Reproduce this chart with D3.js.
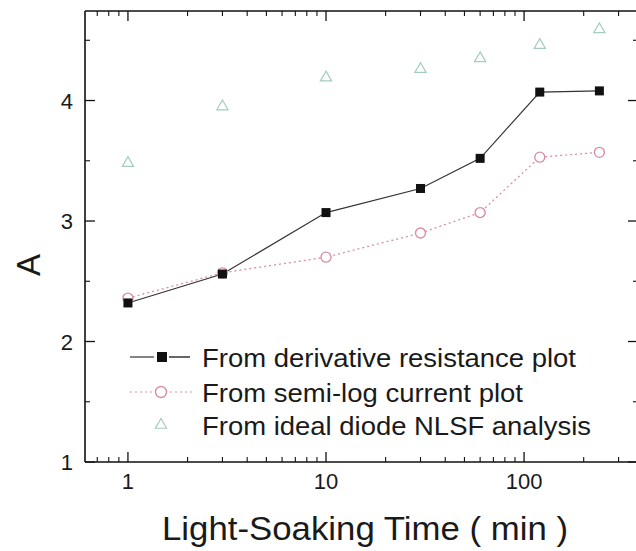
<!DOCTYPE html>
<html><head><meta charset="utf-8">
<script src="https://cdn.jsdelivr.net/npm/d3@7"></script>
<style>body{margin:0;background:#fff}svg{display:block}text{font-family:"Liberation Sans",Arial,sans-serif;fill:#1a1a1a}</style>
</head><body><svg id="c" width="636" height="551"></svg>
<script>
const times = [1, 3, 10, 30, 60, 120, 240];
const derivative = [2.32, 2.56, 3.07, 3.27, 3.52, 4.07, 4.08];
const semilog = [2.36, 2.57, 2.70, 2.90, 3.07, 3.53, 3.57];
const nlsf = [3.48, 3.95, 4.19, 4.26, 4.35, 4.46, 4.59];
const xTicks = [1, 10, 100];
const yTicks = [1, 2, 3, 4];
const legendLabels = ["From derivative resistance plot", "From semi-log current plot", "From ideal diode NLSF analysis"];
const legendWidths = [374, 321, 389];

const svg = d3.select("#c");
const L = 85, R = 638, T = 11, B = 462;
const x = d3.scaleLog().domain([0.607, 376]).range([L, R]);
const y = d3.scaleLinear().domain([1, 4.743]).range([B, T]);

const minorX = [];
for (let d = 0.1; d <= 100; d *= 10) for (let k = 2; k <= 9; k++) { const v = d * k; if (v > 0.607 && v < 376) minorX.push(+v.toPrecision(3)); }
const minorY = [1.5, 2.5, 3.5, 4.5];

const ax = svg.append("g").attr("stroke", "#111").attr("fill", "none");
ax.append("line").attr("x1", L).attr("x2", R).attr("y1", B).attr("y2", B).attr("stroke-width", 1.6);
ax.append("line").attr("x1", L).attr("x2", R).attr("y1", T).attr("y2", T).attr("stroke-width", 1.6);
ax.append("line").attr("x1", L).attr("x2", L).attr("y1", T).attr("y2", B).attr("stroke-width", 1.6);
ax.append("line").attr("x1", R).attr("x2", R).attr("y1", T).attr("y2", B).attr("stroke-width", 1.6);

xTicks.forEach(v => {
  ax.append("line").attr("x1", x(v)).attr("x2", x(v)).attr("y1", B).attr("y2", B - 10).attr("stroke-width", 1.3);
  ax.append("line").attr("x1", x(v)).attr("x2", x(v)).attr("y1", T).attr("y2", T + 10).attr("stroke-width", 1.3);
});
minorX.forEach(v => {
  ax.append("line").attr("x1", x(v)).attr("x2", x(v)).attr("y1", B).attr("y2", B - 5).attr("stroke-width", 1.1);
  ax.append("line").attr("x1", x(v)).attr("x2", x(v)).attr("y1", T).attr("y2", T + 5).attr("stroke-width", 1.1);
});
yTicks.forEach(v => {
  ax.append("line").attr("x1", L).attr("x2", L + 10).attr("y1", y(v)).attr("y2", y(v)).attr("stroke-width", 1.3);
  ax.append("line").attr("x1", R).attr("x2", R - 10).attr("y1", y(v)).attr("y2", y(v)).attr("stroke-width", 1.3);
});
minorY.forEach(v => {
  ax.append("line").attr("x1", L).attr("x2", L + 5).attr("y1", y(v)).attr("y2", y(v)).attr("stroke-width", 1.1);
  ax.append("line").attr("x1", R).attr("x2", R - 5).attr("y1", y(v)).attr("y2", y(v)).attr("stroke-width", 1.1);
});

svg.append("g").selectAll("text").data(xTicks).join("text")
  .attr("x", d => x(d)).attr("y", 489).attr("text-anchor", "middle").attr("font-size", 22).text(d => d);
svg.append("g").selectAll("text").data(yTicks).join("text")
  .attr("x", 73).attr("y", d => y(d) + 8).attr("text-anchor", "end").attr("font-size", 22).text(d => d);

svg.append("text").attr("transform", "translate(40,265) rotate(-90)").attr("text-anchor", "middle")
  .attr("font-size", 33).text("A");
svg.append("text").attr("x", 162).attr("y", 540).attr("font-size", 33)
  .attr("textLength", 406).attr("lengthAdjust", "spacingAndGlyphs")
  .text("Light-Soaking Time ( min )");

const cPink = "#d98ea3", cTeal = "#a3cdc0";
const line = d3.line().x((d, i) => x(times[i])).y(d => y(d));

svg.append("path").attr("d", line(semilog)).attr("fill", "none").attr("stroke", cPink).attr("stroke-width", 1.3).attr("stroke-dasharray", "2,3");
svg.append("path").attr("d", line(derivative)).attr("fill", "none").attr("stroke", "#333").attr("stroke-width", 1.2);

const tri = d3.symbol().type(d3.symbolTriangle).size(55);
svg.append("g").selectAll("path").data(nlsf).join("path")
  .attr("transform", (d, i) => `translate(${x(times[i])},${y(d)})`).attr("d", tri())
  .attr("fill", "none").attr("stroke", cTeal).attr("stroke-width", 1.2);
svg.append("g").selectAll("circle").data(semilog).join("circle")
  .attr("cx", (d, i) => x(times[i])).attr("cy", d => y(d)).attr("r", 5)
  .attr("fill", "#fff").attr("stroke", cPink).attr("stroke-width", 1.4);
svg.append("g").selectAll("rect").data(derivative).join("rect")
  .attr("x", (d, i) => x(times[i]) - 4.5).attr("y", d => y(d) - 4.5).attr("width", 9).attr("height", 9)
  .attr("fill", "#111");

const ly = [357, 392, 425];
const lg = svg.append("g");
lg.append("line").attr("x1", 130).attr("x2", 154).attr("y1", ly[0]).attr("y2", ly[0]).attr("stroke", "#333").attr("stroke-width", 1.2);
lg.append("line").attr("x1", 169).attr("x2", 190).attr("y1", ly[0]).attr("y2", ly[0]).attr("stroke", "#333").attr("stroke-width", 1.5);
lg.append("rect").attr("x", 157).attr("y", ly[0] - 5).attr("width", 10).attr("height", 10).attr("fill", "#111");
lg.append("line").attr("x1", 130).attr("x2", 192).attr("y1", ly[1]).attr("y2", ly[1]).attr("stroke", cPink).attr("stroke-width", 1.2).attr("stroke-dasharray", "2,3");
lg.append("circle").attr("cx", 161).attr("cy", ly[1]).attr("r", 5.5).attr("fill", "#fff").attr("stroke", cPink).attr("stroke-width", 1.4);
lg.append("path").attr("transform", `translate(161,${ly[2]})`).attr("d", tri()).attr("fill", "none").attr("stroke", cTeal).attr("stroke-width", 1.2);
lg.selectAll("text").data(legendLabels).join("text")
  .attr("x", 202).attr("y", (d, i) => ly[i] + 10).attr("font-size", 26)
  .attr("textLength", (d, i) => legendWidths[i]).attr("lengthAdjust", "spacingAndGlyphs").text(d => d);
</script></body></html>
